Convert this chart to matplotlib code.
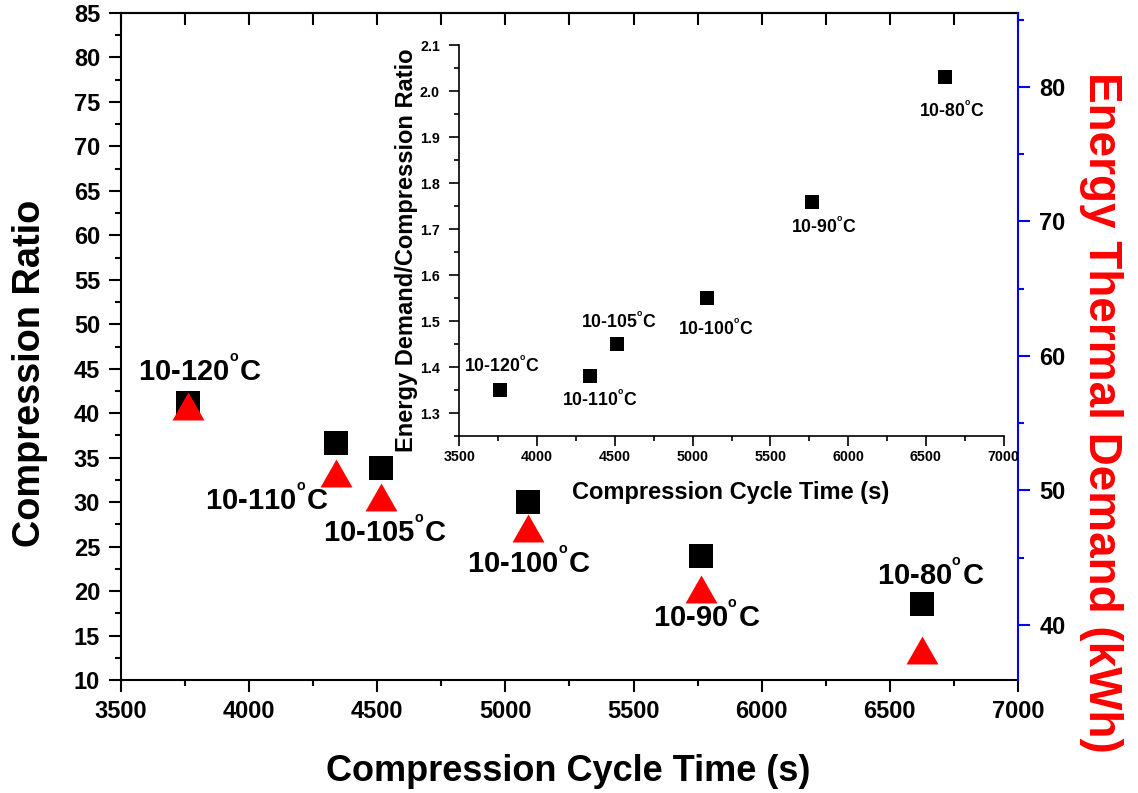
import matplotlib
matplotlib.use('Agg')
import matplotlib.pyplot as plt
from matplotlib.ticker import MultipleLocator

plt.rcParams['font.family'] = 'Liberation Sans'
plt.rcParams['font.weight'] = 'bold'
plt.rcParams['mathtext.fontset'] = 'custom'
plt.rcParams['mathtext.rm'] = 'Liberation Sans:bold'
plt.rcParams['mathtext.bf'] = 'Liberation Sans:bold'

# measured points, one per temperature range
ranges = ['10-120', '10-110', '10-105', '10-100', '10-90', '10-80']
cycle_time = [3760, 4340, 4515, 5090, 5765, 6625]
compression_ratio = [41.2, 36.6, 33.8, 30.0, 23.9, 18.5]
thermal_demand = [56.3, 51.3, 49.5, 47.2, 42.7, 38.1]
demand_per_ratio = [1.35, 1.38, 1.45, 1.55, 1.76, 2.03]

# where the range labels sit (center x, baseline y)
main_lbl_x = [3808, 4070, 4530, 5090, 5784, 6660]
main_lbl_y = [43.6, 29.1, 25.5, 22.1, 16.0, 20.7]
inset_lbl_x = [3774, 4404, 4526, 5150, 5845, 6667]
inset_lbl_y = [1.391, 1.315, 1.485, 1.471, 1.691, 1.943]

tri = [(0, 0.875), (-1, -0.875), (1, -0.875)]
deg = r'$^{^{\mathbf{o}}}$C'

fig = plt.figure(figsize=(11.38, 7.93), dpi=100)
ax = fig.add_axes([0.1063, 0.1425, 0.7882, 0.8411])
ax2 = ax.twinx()

ax.plot(cycle_time, compression_ratio, ls='none', marker='s', ms=17.3,
        mew=0, color='black', zorder=3)
ax2.plot(cycle_time, thermal_demand, ls='none', marker=tri, ms=23,
         mew=0, color='red', zorder=3)

for name, x, y in zip(ranges, main_lbl_x, main_lbl_y):
    ax.text(x, y, name + deg, fontsize=21, ha='center',
            va='baseline', fontweight='bold')

ax.set_xlim(3500, 7000)
ax.set_ylim(10, 85)
ax2.set_ylim(35.9, 85.5)

ax.xaxis.set_major_locator(MultipleLocator(500))
ax.xaxis.set_minor_locator(MultipleLocator(250))
ax.yaxis.set_major_locator(MultipleLocator(5))
ax.yaxis.set_minor_locator(MultipleLocator(2.5))
ax2.yaxis.set_major_locator(MultipleLocator(10))
ax2.yaxis.set_minor_locator(MultipleLocator(5))

for s in ['left', 'top', 'bottom']:
    ax.spines[s].set_linewidth(1.5)
    ax2.spines[s].set_visible(False)
ax.spines['right'].set_visible(False)
ax2.spines['right'].set_color('blue')
ax2.spines['right'].set_linewidth(1.5)

ax.tick_params(axis='both', which='major', direction='out', length=8.5,
               width=1.5, labelsize=17)
ax.tick_params(axis='both', which='minor', direction='out', length=4.5,
               width=1.5)
ax.tick_params(axis='x', pad=6)
ax.tick_params(axis='y', pad=6.5)
ax2.tick_params(axis='y', which='major', direction='out', length=8.5,
                width=1.5, colors='blue', labelcolor='black', labelsize=17,
                pad=7)
ax2.tick_params(axis='y', which='minor', direction='out', length=4.5,
                width=1.5, colors='blue')

# inward ticks along the top edge
top = ax.secondary_xaxis('top')
top.xaxis.set_major_locator(MultipleLocator(500))
top.xaxis.set_minor_locator(MultipleLocator(250))
top.tick_params(which='both', direction='in', length=8.5, width=1.5,
                labeltop=False)
top.spines['top'].set_linewidth(1.5)

ax.set_xlabel('Compression Cycle Time (s)', fontsize=26, fontweight='bold')
ax.xaxis.label.set_va('baseline')
ax.xaxis.set_label_coords(0.499, -0.152)
ax.set_ylabel('Compression Ratio', fontsize=27.3, fontweight='bold')
ax.yaxis.label.set_va('center')
ax.yaxis.set_label_coords(-0.1015, 0.459)
ax2.set_ylabel('Energy Thermal Demand (kWh)', fontsize=33, color='red',
               rotation=270, fontweight='bold')
ax2.yaxis.label.set_va('center')
ax2.yaxis.set_label_coords(1.0925, 0.401)

# inset: energy demand per unit compression ratio
axi = fig.add_axes([0.4037, 0.4498, 0.4782, 0.4934])
axi.patch.set_alpha(0)
axi.plot(cycle_time, demand_per_ratio, ls='none', marker='s', ms=10,
         mew=0, color='black')
for name, x, y in zip(ranges, inset_lbl_x, inset_lbl_y):
    axi.text(x, y, name + deg, fontsize=12.7, ha='center',
             va='baseline', fontweight='bold')
axi.set_xlim(3500, 7000)
axi.set_ylim(1.25, 2.1)
axi.xaxis.set_major_locator(MultipleLocator(500))
axi.xaxis.set_minor_locator(MultipleLocator(250))
axi.yaxis.set_major_locator(MultipleLocator(0.1))
axi.yaxis.set_minor_locator(MultipleLocator(0.05))
axi.spines['top'].set_visible(False)
axi.spines['right'].set_visible(False)
for s in ['left', 'bottom']:
    axi.spines[s].set_linewidth(1.2)
axi.tick_params(which='major', direction='out', length=7, width=1.2,
                labelsize=10.3)
axi.tick_params(which='minor', direction='out', length=3.5, width=1.2)
axi.tick_params(axis='x', pad=2.5)
axi.tick_params(axis='y', pad=7)
axi.set_xlabel('Compression Cycle Time (s)', fontsize=17, fontweight='bold')
axi.xaxis.label.set_va('baseline')
axi.xaxis.set_label_coords(0.499, -0.159)
axi.set_ylabel('Energy Demand/Compression Ratio', fontsize=17,
               fontweight='bold')
axi.yaxis.label.set_va('center')
axi.yaxis.set_label_coords(-0.098, 0.476)

fig.savefig('out.png', dpi=100)
